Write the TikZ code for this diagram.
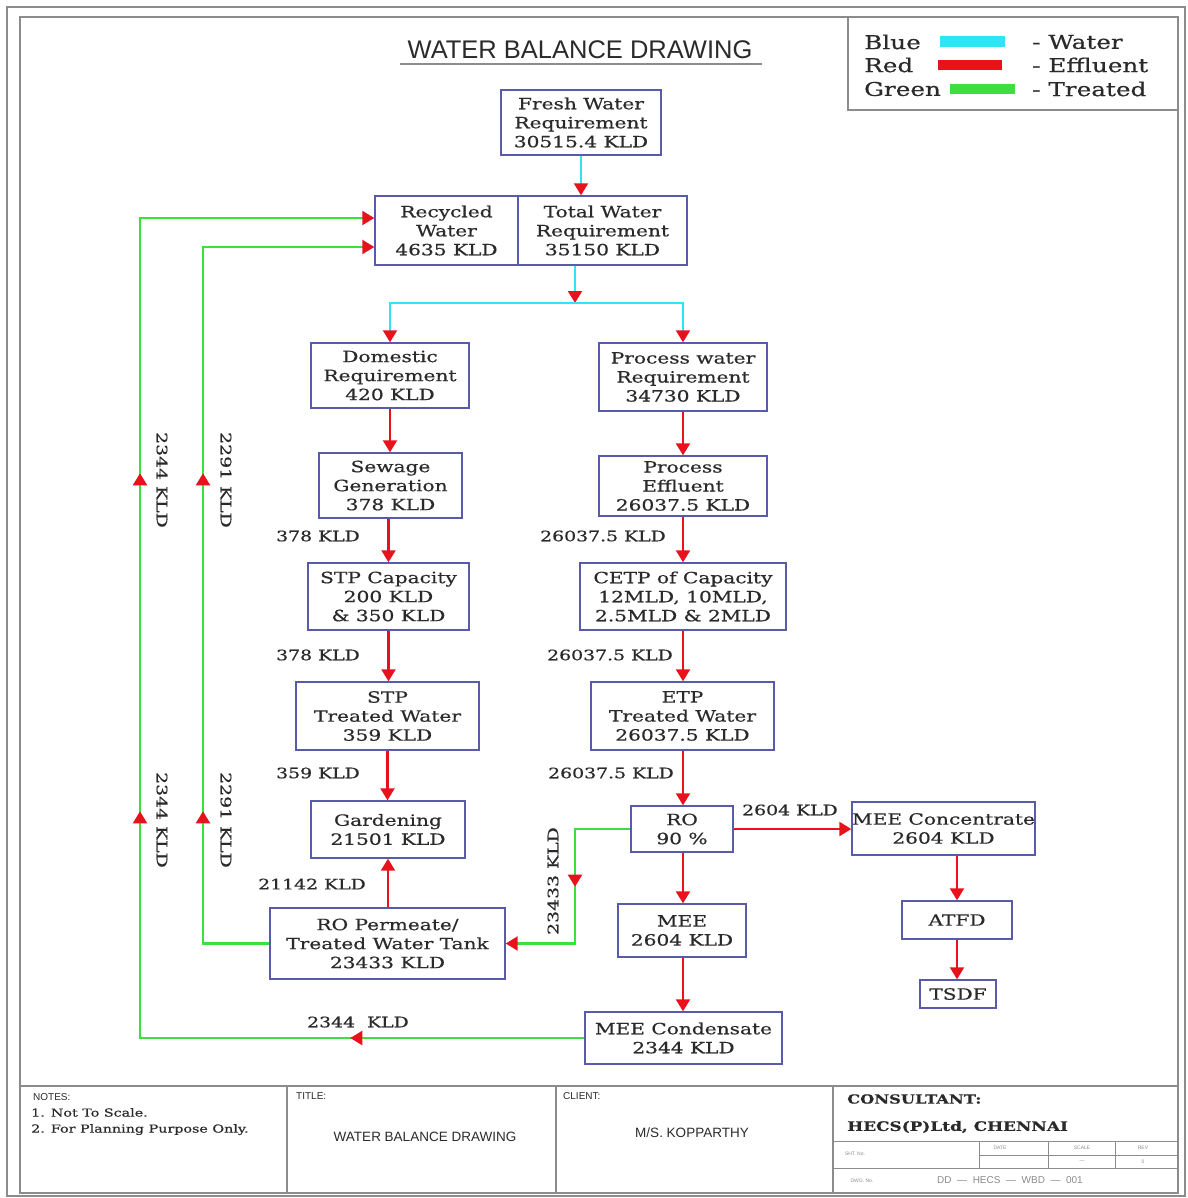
\documentclass[tikz,border=0pt]{standalone}
\usepackage{fontspec}
\usetikzlibrary{arrows.meta,decorations.markings}
\newfontfamily\nf[FakeStretch=1.3,FakeBold=0.6]{DejaVu Serif}
\setsansfont{Liberation Sans}
\definecolor{bxc}{HTML}{5A5AAA}
\definecolor{txc}{HTML}{2A2A2A}
\definecolor{cyn}{HTML}{30E4F4}
\definecolor{rd}{HTML}{E8121C}
\definecolor{grn}{HTML}{3CE03C}
\definecolor{frm}{HTML}{8C8C8C}
\tikzset{
 tipr/.tip={Triangle[color=rd,width=14pt,length=12pt]},
 box/.style={draw=bxc,line width=1.4pt,inner sep=0pt,align=center,text=txc,font=\nf\fontsize{15.5}{19}\selectfont},
 rline/.style={draw=rd,line width=2.2pt,-{tipr}},
 cline/.style={draw=cyn,line width=2.2pt,-{tipr}},
 gline/.style={draw=grn,line width=2.2pt},
 lbl/.style={text=txc,font=\nf\fontsize{14.5}{18}\selectfont,inner sep=0pt},
 leg/.style={text=txc,font=\nf\fontsize{19}{22}\selectfont,inner sep=0pt,anchor=west},
 tiny/.style={text=frm,font=\sffamily\fontsize{5}{6}\selectfont,inner sep=0pt},
 sml/.style={text=txc,font=\sffamily\fontsize{10}{12}\selectfont,inner sep=0pt,anchor=west},
}
\begin{document}
\begin{tikzpicture}[x=1pt,y=-1pt]
\useasboundingbox (0,0) rectangle (1187,1198);
% frame
\draw[frm,line width=1.5pt] (7,7) rectangle (1185,1196);
\draw[frm,line width=1.5pt] (20,17) rectangle (1178,1193);
\draw[frm,line width=1.5pt] (848,17) rectangle (1178,110);
% legend
\node[leg] (lb) at (864,42) {Blue};
\node[leg] (lr) at (864,65) {Red};
\node[leg] (lg) at (864,89) {Green};
\node[leg] (lw) at (1032,42) {- Water};
\node[leg] (le) at (1032,65) {- Effluent};
\node[leg] (lt) at (1032,89) {- Treated};
\fill[cyn] (940,36) rectangle (1005,47);
\fill[rd] (938,60) rectangle (1002,70);
\fill[grn] (950,84) rectangle (1015,94);
% title
\node[text=txc,font=\sffamily\fontsize{25.5}{28}\selectfont,inner sep=0pt] (title) at (580,50) {WATER BALANCE DRAWING};
\draw[frm,line width=2pt] (400,64) -- (762,64);
% nodes
\node[box,minimum width=160pt,minimum height=65pt] (fresh) at (581,122.5) {Fresh Water\\Requirement\\30515.4 KLD};
\node[box,minimum width=143pt,minimum height=69pt] (rec) at (446.5,230.5) {Recycled\\Water\\4635 KLD};
\node[box,minimum width=169pt,minimum height=69pt] (total) at (602.5,230.5) {Total Water\\Requirement\\35150 KLD};
\node[box,minimum width=158pt,minimum height=65pt] (dom) at (390,375.5) {Domestic\\Requirement\\420 KLD};
\node[box,minimum width=168pt,minimum height=68pt] (proc) at (683,377) {Process water\\Requirement\\34730 KLD};
\node[box,minimum width=143pt,minimum height=65pt] (sew) at (390.5,485.5) {Sewage\\Generation\\378 KLD};
\node[box,minimum width=168pt,minimum height=60pt] (peff) at (683,486) {Process\\Effluent\\26037.5 KLD};
\node[box,minimum width=161pt,minimum height=67pt] (stp) at (388.5,596.5) {STP Capacity\\200 KLD\\\& 350 KLD};
\node[box,minimum width=206pt,minimum height=67pt] (cetp) at (683,596.5) {CETP of Capacity\\12MLD, 10MLD,\\2.5MLD \& 2MLD};
\node[box,minimum width=183pt,minimum height=68pt] (stpt) at (387.5,716) {STP\\Treated Water\\359 KLD};
\node[box,minimum width=183pt,minimum height=68pt] (etp) at (682.5,716) {ETP\\Treated Water\\26037.5 KLD};
\node[box,minimum width=154pt,minimum height=57pt] (gard) at (388,829.5) {Gardening\\21501 KLD};
\node[box,minimum width=102pt,minimum height=46pt] (ro) at (682,829) {RO\\90 \%};
\node[box,minimum width=171pt,minimum height=53pt] (meec) at (943.5,828.5) {MEE Concentrate\\2604 KLD};
\node[box,minimum width=235pt,minimum height=71pt] (perm) at (387.5,943.5) {RO Permeate/\\Treated Water Tank\\23433 KLD};
\node[box,minimum width=128pt,minimum height=53pt] (mee) at (682,930.5) {MEE\\2604 KLD};
\node[box,minimum width=110pt,minimum height=38pt] (atfd) at (957,920) {ATFD};
\node[box,minimum width=76pt,minimum height=28pt] (tsdf) at (958,994) {TSDF};
\node[box,minimum width=197pt,minimum height=52pt] (cond) at (683.5,1038) {MEE Condensate\\2344 KLD};
% water connectors
\coordinate (tsplit) at (575,303);
\draw[cline] (fresh.south) -- (fresh.south |- total.north);
\draw[cline] (tsplit |- total.south) -- (tsplit);
\draw[cline] (tsplit) -| (dom.north);
\draw[cline] (tsplit) -| (proc.north);
% effluent connectors
\draw[rline] (dom.south) -- (dom.south |- sew.north);
\draw[rline] (stp.north |- sew.south) -- (stp.north);
\draw[rline] (stp.south) -- (stp.south |- stpt.north);
\draw[rline] (stpt.south) -- (stpt.south |- gard.north);
\draw[rline] (gard.south |- perm.north) -- (gard.south);
\draw[rline] (proc.south) -- (proc.south |- peff.north);
\draw[rline] (peff.south) -- (peff.south |- cetp.north);
\draw[rline] (cetp.south) -- (cetp.south |- etp.north);
\draw[rline] (cetp.south |- etp.south) -- (cetp.south |- ro.north);
\draw[rline] (cetp.south |- ro.south) -- (cetp.south |- mee.north);
\draw[rline] (cetp.south |- mee.south) -- (cetp.south |- cond.north);
\draw[rline] (ro.east) -- (ro.east -| meec.west);
\draw[rline] (atfd.north |- meec.south) -- (atfd.north);
\draw[rline] (atfd.south) -- (atfd.south |- tsdf.north);
% treated connectors
\coordinate (g1) at (575,829);
\draw[gline,-{tipr},postaction={decorate},decoration={markings,mark=at position 113pt with {\arrow{tipr}}}]
  (ro.west) -- (g1) |- (perm.east);
\coordinate (g2) at (203,247);
\draw[gline,-{tipr},postaction={decorate},decoration={markings,mark=at position 198.5pt with {\arrow{tipr}},mark=at position 536.5pt with {\arrow{tipr}}}]
  (perm.west) -| (g2) -- (g2 -| rec.west);
\coordinate (g3) at (140,218);
\draw[gline,-{tipr},postaction={decorate},decoration={markings,mark=at position 234pt with {\arrow{tipr}},mark=at position 671pt with {\arrow{tipr}},mark=at position 1009pt with {\arrow{tipr}}}]
  (cond.west) -| (g3) -- (g3 -| rec.west);
% labels
\node[lbl] (l1) at (318,536) {378 KLD};
\node[lbl] (l2) at (318,655) {378 KLD};
\node[lbl] (l3) at (318,773) {359 KLD};
\node[lbl] (l4) at (312,884) {21142 KLD};
\node[lbl] (l5) at (603,536) {26037.5 KLD};
\node[lbl] (l6) at (610,655) {26037.5 KLD};
\node[lbl] (l7) at (611,773) {26037.5 KLD};
\node[lbl] (l8) at (790,810) {2604 KLD};
\node[lbl] (l9) at (358,1022) {2344\ \ KLD};
\node[lbl,rotate=-90] (l10) at (162,480) {2344 KLD};
\node[lbl,rotate=-90] (l11) at (162,820) {2344 KLD};
\node[lbl,rotate=-90] (l12) at (226,480) {2291 KLD};
\node[lbl,rotate=-90] (l13) at (226,820) {2291 KLD};
\node[lbl,rotate=90] (l14) at (553,881) {23433 KLD};
% title block
\draw[frm,line width=1.5pt] (20,1086) -- (1178,1086);
\draw[frm,line width=1.5pt] (287,1086) -- (287,1193);
\draw[frm,line width=1.5pt] (556,1086) -- (556,1193);
\draw[frm,line width=1.5pt] (833,1086) -- (833,1193);
\draw[frm,line width=1pt] (833,1141) -- (1178,1141);
\draw[frm,line width=1pt] (833,1168) -- (1178,1168);
\draw[frm,line width=0.8pt] (979,1155) -- (1178,1155);
\draw[frm,line width=0.8pt] (979,1141) -- (979,1168);
\draw[frm,line width=0.8pt] (1048,1141) -- (1048,1168);
\draw[frm,line width=0.8pt] (1115,1141) -- (1115,1168);
\node[sml] (notes) at (33,1097) {NOTES:};
\node[text=txc,font=\nf\fontsize{11}{16}\selectfont,inner sep=0pt,anchor=north west,align=left] (notetxt) at (31,1108) {1. Not To Scale.\\2. For Planning Purpose Only.};
\node[sml] (ttl) at (296,1096) {TITLE:};
\node[text=txc,font=\sffamily\fontsize{13.5}{16}\selectfont,inner sep=0pt] (ttlt) at (425,1137) {WATER BALANCE DRAWING};
\node[sml] (cli) at (563,1096) {CLIENT:};
\node[text=txc,font=\sffamily\fontsize{13.5}{16}\selectfont,inner sep=0pt] (clit) at (692,1133) {M/S. KOPPARTHY};
\node[text=txc,font=\nf\bfseries\fontsize{12.5}{15}\selectfont,inner sep=0pt,anchor=west] (cons) at (847,1099) {CONSULTANT:};
\node[text=txc,font=\nf\bfseries\fontsize{13}{15}\selectfont,inner sep=0pt,anchor=west] (hecs) at (847,1127) {HECS(P)Ltd, CHENNAI};
\node[tiny] (t1) at (855,1154) {SHT. No.};
\node[tiny] (t2) at (1000,1148) {DATE};
\node[tiny] (t3) at (1082,1148) {SCALE};
\node[tiny] (t4) at (1143,1148) {REV};
\node[tiny] (t5) at (1082,1162) {---};
\node[tiny] (t6) at (1143,1162) {0};
\node[tiny] (t7) at (862,1181) {DWG. No.};
\node[text=frm,font=\sffamily\fontsize{10}{12}\selectfont,inner sep=0pt] (dwg) at (1010,1180) {DD \ --- \ HECS \ --- \ WBD \ --- \ 001};
\end{tikzpicture}
\end{document}
